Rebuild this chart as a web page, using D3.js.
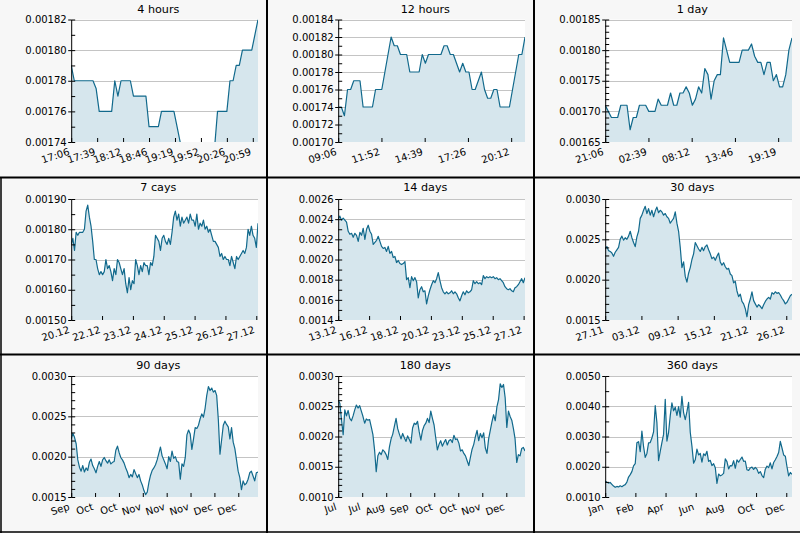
<!DOCTYPE html>
<html>
<head>
<meta charset="utf-8">
<script src="https://cdn.jsdelivr.net/npm/d3@7/dist/d3.min.js"></script>
<style>
html,body{margin:0;padding:0;background:#f7f7f7;}
svg{display:block;}
</style>
</head>
<body>
<svg id="chart" width="800" height="533"></svg>
<script>
// ---------- DATA ----------
// prices, in units of 1e-5 (panels 1-4) or 1e-4 (panels 5-9), sampled evenly over each window
const price4h = [179,178,178,178,178,178,178,178,177.5,176, 176,176,176,176,178,177,178,178,178,178, 177,177,177,177,177,175,175,175,175,176, 176,176,176,176,175,174,173,173,173,173, 173,173,173,173,173,173,173.5,176,176,176, 176,178,178,179,179,180,180,180,180,181, 182];
const price12h = [174,174,173,176,176,177,177,177,174,174, 174,174,176,176,176,178,180,182,181,181, 180,180,180,178,178,178,178,180,179,180, 180,180,180,180,181,181,180,180,179,178, 179,178,178,176,176,177,178,176,175,175, 176,176,174,174,174,174,176,178,180,180, 182];
const price1d = [171,170,169,169,169,171,171,171,167,169, 169,171,171,171,170,170,170,172,171,171, 171,173,171,171,173,173,174,173,171,172, 174,173,177,176,172,175,176,176,182,180, 178,178,178,178,180,180,180,181,179,178, 178,176,178,178,175,176,174,174,176,180, 182];
const price7d = [175,177,173,179,178,179,179,179,180,186, 188,184,181,176,170,170,167,165,166,165, 166,170,167,168,166,163,167,165,170,169, 167,165,167,162,159,164,160,163,162,170, 168,165,168,166,169,168,168,165,169,168, 171,178,177,176,173,177,178,176,175,177, 175,179,184,186,183,185,181,184,182,183, 184,182,185,183,183,181,185,180,182,181, 183,180,181,179,180,178,176,176,175,174, 171,172,170,171,170,170,168,171,169,167, 171,170,171,172,173,172,174,180,178,181, 178,177,174,182];
const price14d = [24.0,24.3,23.9,24.1,23.9,23.7,22.8,22.5,22.6,22.2, 22.6,22.4,21.8,22.7,22.4,23.1,22.0,23.0,23.4,22.8, 22.5,21.5,21.7,21.9,22.3,21.8,21.3,21.1,21.2,20.8, 21.3,20.6,20.8,20.2,20.3,19.7,19.9,19.6,19.5,19.6, 19.8,18.0,18.2,17.2,18.3,17.9,18.2,17.8,16.2,17.0, 17.3,16.8,16.9,15.6,16.4,17.0,17.5,17.9,17.7,18.1, 18.7,17.9,17.2,16.8,16.6,16.8,16.6,16.7,16.9,16.6, 16.8,16.6,16.2,15.9,16.4,16.8,16.5,16.9,16.7,16.8, 17.0,17.9,17.6,17.8,17.6,17.7,17.5,18.4,18.1,18.3, 18.2,18.3,18.2,18.3,18.1,18.2,18.0,18.1,17.9,17.7, 17.3,17.1,17.0,17.1,16.9,16.8,17.2,17.3,17.5,17.8, 18.1,17.7,18.2];
const price30d = [23.8,24.1,23.6,23.5,23.3,22.9,23.4,23.7,24.0,25.0, 25.4,24.9,25.2,25.0,25.4,26.0,25.2,24.6,24.1,25.3, 26.0,27.6,28.0,28.6,29.1,28.2,28.8,28.0,28.6,27.8, 28.5,29.0,28.3,28.6,28.4,28.0,28.2,27.8,27.6,27.0, 27.3,27.6,28.4,27.0,26.0,24.0,21.5,22.2,20.4,19.7, 20.8,21.5,22.5,23.2,24.6,24.2,23.8,23.5,24.0,23.6, 24.1,24.3,23.7,23.2,22.6,22.8,22.4,22.9,23.3,22.2, 21.8,22.1,21.6,21.3,21.4,20.7,20.5,19.6,19.8,18.6, 17.9,18.2,17.3,17.0,16.4,15.4,16.9,17.6,18.5,17.4, 17.0,16.6,16.9,16.7,16.4,16.9,17.3,17.6,17.8,17.6, 18.4,18.2,18.5,18.3,18.4,18.1,17.7,17.4,17.0,17.2, 17.6,18.0,18.2];
const price90d = [22.2,22.9,22.4,21.6,19.6,18.7,18.2,18.9,18.1,18.6, 18.3,19.3,19.7,18.9,18.5,18.0,18.8,19.4,18.8,19.6, 19.9,19.5,19.2,19.6,19.1,19.3,19.4,20.8,21.3,20.5, 19.9,19.6,19.2,18.6,18.1,17.4,17.8,17.5,18.4,17.9, 17.4,17.8,17.0,16.5,15.8,15.3,15.6,16.8,17.7,18.3, 18.6,19.0,19.6,20.4,21.2,20.1,19.6,19.1,18.5,20.0, 19.4,20.7,19.8,20.0,19.4,19.3,17.2,19.1,18.8,19.9, 22.7,23.3,22.8,20.9,22.2,23.6,23.5,23.9,24.7,25.3, 24.9,26.0,27.6,28.7,28.2,28.5,28.0,28.2,27.6,24.6, 20.3,22.1,23.9,24.4,24.0,23.7,22.2,23.6,21.8,21.0, 19.6,18.2,17.4,15.9,17.0,16.5,16.7,17.2,18.0,18.2, 17.6,17.0,18.0,18.1];
const price180d = [26.0,25.5,22.8,20.3,24.4,23.4,24.3,23.0,22.6,23.4, 24.4,25.2,24.7,25.1,24.2,23.3,22.2,22.9,22.7,22.8, 21.6,20.3,17.8,14.2,16.8,17.4,17.0,17.8,17.5,17.0, 16.2,18.3,19.6,20.4,21.7,23.0,21.3,20.4,19.6,20.5, 19.8,19.2,20.1,19.5,18.9,21.4,22.2,22.0,22.5,20.8, 19.4,21.0,21.8,22.2,23.0,22.3,24.2,23.0,21.9,19.8, 17.8,18.7,19.3,18.4,19.0,19.5,18.6,19.3,19.5,19.0, 20.2,19.5,19.6,18.9,17.6,17.8,17.2,16.8,16.0,15.2, 16.6,17.9,18.7,20.0,21.0,19.3,20.5,19.8,20.6,18.1, 17.2,19.6,21.0,22.4,23.6,22.6,24.9,26.1,28.7,28.1, 28.6,26.4,21.5,24.2,23.3,22.7,21.3,19.6,15.7,17.0, 16.8,18.0,18.2,17.6];
const price360d = [15.3,14.9,14.6,14.8,14.2,13.6,13.2,13.5,13.3,13.7, 13.4,13.8,14.1,14.9,16.6,17.4,18.4,20.3,21.0,27.9, 28.3,25.0,31.8,26.7,23.1,24.4,27.9,28.0,29.5,31.5, 40.2,34.6,22.0,25.1,28.0,30.7,42.3,28.5,31.4,36.9, 41.1,38.5,39.7,37.0,39.9,36.4,43.3,37.9,35.6,38.2, 41.3,31.4,26.8,21.2,22.3,25.8,23.9,24.4,21.5,24.3, 23.7,25.1,21.8,22.1,20.4,21.0,19.7,14.5,17.6,17.0, 17.3,17.8,22.6,21.7,19.3,20.4,20.3,22.0,19.5,22.3, 21.5,22.4,23.2,21.8,21.9,19.0,18.8,19.6,19.9,19.1, 19.8,19.2,17.8,18.4,17.1,16.4,19.2,20.2,19.7,21.3, 19.3,21.4,22.3,23.4,24.7,28.4,26.2,23.9,23.5,20.0, 17.0,18.1,17.5];

const titles = ["4 hours","12 hours","1 day","7 cays","14 days","30 days","90 days","180 days","360 days"];
const seriesList = [price4h,price12h,price1d,price7d,price14d,price30d,price90d,price180d,price360d];
const seriesUnits = [1e-5,1e-5,1e-5,1e-5,1e-4,1e-4,1e-4,1e-4,1e-4];
// window length (minutes for the first three, days for the rest) and x tick spacing
const spans = [240,720,1440,7,14,30,90,180,360];
const tickSteps = [100/3,500/3,1000/3,1.156,2.316,5.816,11.5,23.14,58.16];

const xl4h = ["17:06","17:39","18:12","18:46","19:19","19:52","20:26","20:59"];
const xl12h = ["09:06","11:52","14:39","17:26","20:12"];
const xl1d = ["21:06","02:39","08:12","13:46","19:19"];
const xl7d = ["20.12","22.12","23.12","24.12","25.12","26.12","27.12"];
const xl14d = ["13.12","16.12","18.12","20.12","23.12","25.12","27.12"];
const xl30d = ["27.11","03.12","09.12","15.12","21.12","26.12"];
const xl90d = ["Sep","Oct","Oct","Nov","Nov","Nov","Dec","Dec"];
const xl180d = ["Jul","Jul","Aug","Sep","Oct","Oct","Nov","Dec"];
const xl360d = ["Jan","Feb","Apr","Jun","Aug","Oct","Dec"];
const xTickLabels = [xl4h,xl12h,xl1d,xl7d,xl14d,xl30d,xl90d,xl180d,xl360d];

const yDomains = [[0.00174,0.00182],[0.00170,0.00184],[0.00165,0.00185],[0.00150,0.00190],[0.0014,0.0026],[0.0015,0.0030],[0.0015,0.0030],[0.0010,0.0030],[0.0010,0.0050]];
const yMajorSteps = [0.00002,0.00002,0.00005,0.0001,0.0002,0.0005,0.0005,0.0005,0.001];
const yMinorSteps = [0.00001,0.00001,0.00001,0.00005,0.0001,0.0001,0.0001,0.0001,0.0005];
const yDecimals = [5,5,5,5,4,4,4,4,4];

// ---------- LAYOUT ----------
const W = 800, H = 533;
const colX = [0,267,534];
const plotLeft = 71.2, plotRight = 258;
const rowPlotTop = [19.5,199,376], rowPlotBottom = [142,320,497], rowTitleY = [12.5,191,369];
const FONT = "DejaVu Sans, Verdana, sans-serif";
const lineColor = "#11698c", fillColor = "#d6e6ed", gridColor = "#c4c4c4";

const svg = d3.select("#chart");
svg.append("rect").attr("width",W).attr("height",H).attr("fill","#f7f7f7");
const defs = svg.append("defs");

titles.forEach((title,i) => {
  const r = Math.floor(i/3), c = i%3;
  const x0 = colX[c]+plotLeft, x1 = colX[c]+plotRight;
  const y0 = rowPlotTop[r], y1 = rowPlotBottom[r];
  const vals = seriesList[i].map(v => v*seriesUnits[i]);
  const n = vals.length;
  const x = d3.scaleLinear().domain([0,spans[i]]).range([x0,x1]);
  const y = d3.scaleLinear().domain(yDomains[i]).range([y1,y0]);
  const g = svg.append("g");

  g.append("rect").attr("x",x0).attr("y",y0).attr("width",x1-x0).attr("height",y1-y0).attr("fill","#fff");

  const [lo,hi] = yDomains[i];
  const majors = d3.range(Math.round((hi-lo)/yMajorSteps[i])+1).map(k => lo+k*yMajorSteps[i]);
  const minors = d3.range(Math.round((hi-lo)/yMinorSteps[i])+1).map(k => lo+k*yMinorSteps[i])
    .filter(v => !majors.some(m => Math.abs(m-v) < 1e-10));

  // grid
  g.selectAll(null).data(majors.slice(1)).join("line")
    .attr("x1",x0).attr("x2",x1)
    .attr("y1",d=>Math.round(y(d))+0.5).attr("y2",d=>Math.round(y(d))+0.5)
    .attr("stroke",gridColor).attr("stroke-width",1);

  // series
  const clipId = "clip"+i;
  defs.append("clipPath").attr("id",clipId).append("rect")
    .attr("x",x0).attr("y",y0).attr("width",x1-x0).attr("height",y1-y0);
  const pts = vals.map((v,k) => [k*spans[i]/(n-1), v]);
  const gs = g.append("g").attr("clip-path",`url(#${clipId})`);
  gs.append("path").datum(pts)
    .attr("d", d3.area().x(d=>x(d[0])).y0(y1).y1(d=>y(d[1])))
    .attr("fill",fillColor);
  gs.append("path").datum(pts)
    .attr("d", d3.line().x(d=>x(d[0])).y(d=>y(d[1])))
    .attr("fill","none").attr("stroke",lineColor).attr("stroke-width",1.2).attr("stroke-linejoin","round");

  // y axis
  const fmt = d3.format("."+yDecimals[i]+"f");
  g.append("g").attr("transform",`translate(${x0},0)`)
    .call(d3.axisLeft(y).tickValues(majors).tickFormat(fmt).tickSize(3).tickPadding(1.5).tickSizeOuter(0))
    .call(a => a.selectAll("text").attr("font-family",FONT).attr("font-size",10).attr("fill","#000"));
  g.append("g").attr("transform",`translate(${x0},0)`)
    .call(d3.axisRight(y).tickValues(majors.concat(minors)).tickFormat("").tickSize(4).tickSizeOuter(0))
    .call(a => a.select(".domain").remove());

  // x axis
  const labels = xTickLabels[i];
  const tickVals = labels.map((_,k) => k*tickSteps[i]);
  g.append("g").attr("transform",`translate(0,${y1})`)
    .call(d3.axisBottom(x).tickValues(tickVals).tickFormat((d,k)=>labels[k]).tickSize(-4).tickSizeOuter(0))
    .call(a => a.select(".domain").remove())
    .call(a => a.selectAll("text")
      .attr("font-family",FONT).attr("font-size",10).attr("fill","#000")
      .attr("y",null).attr("dy",null).attr("text-anchor","end")
      .attr("transform","translate(-1.5,12.5) rotate(-18)"));

  // title
  g.append("text").attr("x",colX[c]+158.3).attr("y",rowTitleY[r])
    .attr("text-anchor","middle").attr("font-family",FONT).attr("font-size",11.2).attr("fill","#000")
    .text(title);
});

// panel separators / frame
const sep = svg.append("g").attr("stroke","#000");
[267,534].forEach(v => sep.append("line").attr("x1",v).attr("x2",v).attr("y1",0).attr("y2",H).attr("stroke-width",2));
[177.5,354.5].forEach(v => sep.append("line").attr("x1",0).attr("x2",W).attr("y1",v).attr("y2",v).attr("stroke-width",2));
sep.append("line").attr("x1",1).attr("x2",1).attr("y1",177.5).attr("y2",H).attr("stroke-width",1.5);
sep.append("line").attr("x1",0).attr("x2",W).attr("y1",532).attr("y2",532).attr("stroke-width",1.5);
</script>
</body>
</html>
